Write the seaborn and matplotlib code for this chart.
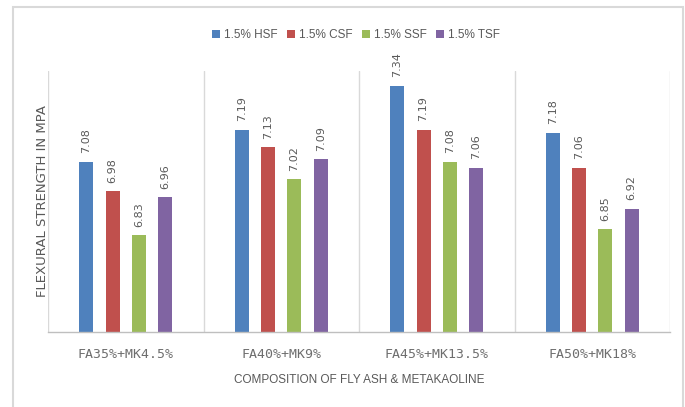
import matplotlib
matplotlib.use('Agg')
import matplotlib.pyplot as plt
from matplotlib import font_manager
from matplotlib.patches import Rectangle
import seaborn as sns
import pandas as pd

# Chart data
groups = ['FA35%+MK4.5%', 'FA40%+MK9%', 'FA45%+MK13.5%', 'FA50%+MK18%']
series = ['1.5% HSF', '1.5% CSF', '1.5% SSF', '1.5% TSF']
hsf = [7.08, 7.19, 7.34, 7.18]
csf = [6.98, 7.13, 7.19, 7.06]
ssf = [6.83, 7.02, 7.08, 6.85]
tsf = [6.96, 7.09, 7.06, 6.92]
colors = ['#4F81BD', '#C0504D', '#9BBB59', '#8064A2']

# long-format table for seaborn
rows = []
for name, vals in zip(series, [hsf, csf, ssf, tsf]):
    for g, v in zip(groups, vals):
        rows.append({'group': g, 'series': name, 'value': v})
df = pd.DataFrame(rows)

sns.set_theme(style='white')
installed = {f.name for f in font_manager.fontManager.ttflist}
narrow = 'Liberation Sans Narrow' if 'Liberation Sans Narrow' in installed else 'Liberation Sans'
plt.rcParams['font.family'] = ['DejaVu Sans']

TEXT = '#595959'
GRID = '#d9d9d9'

fig = plt.figure(figsize=(6.85, 4.07), dpi=100)
ax = fig.add_axes([48 / 685, 75.3 / 407, 622 / 685, 260.7 / 407])

sns.barplot(data=df, x='group', y='value', hue='series', order=groups,
            hue_order=series, palette=colors, saturation=1, width=0.677, gap=0.47,
            linewidth=0, errorbar=None, ax=ax)

ax.set_ylim(6.5, 7.39)
ax.set_xlim(-0.5, 3.5)

# category separators
for xpos in [-0.5, 0.5, 1.5, 2.5, 3.5]:
    ax.axvline(xpos, color=GRID, lw=1.0, zorder=0)

for s in ['top', 'right', 'left']:
    ax.spines[s].set_visible(False)
ax.spines['bottom'].set_color('#bfbfbf')
ax.spines['bottom'].set_linewidth(1.0)

ax.set_yticks([])
ax.tick_params(axis='x', length=0, pad=12)
ax.set_xticks(range(len(groups)))
ax.set_xticklabels(groups, family='DejaVu Sans Mono', fontsize=9.5, color='#6e6e6e')

for cont in ax.containers:
    ax.bar_label(cont, fmt='%.2f', rotation=90, padding=6, fontsize=8, color=TEXT)

ax.set_xlabel('COMPOSITION OF FLY ASH & METAKAOLINE', family=narrow,
              fontsize=8.5, color=TEXT, labelpad=9)
ax.set_ylabel('FLEXURAL STRENGTH IN MPA', fontsize=9.5, color=TEXT, labelpad=-1)

leg = ax.legend(loc='center', bbox_to_anchor=(356 / 685, 1 - 35 / 407),
                bbox_transform=fig.transFigure, ncol=4, frameon=False,
                prop={'family': narrow, 'size': 8.5}, handlelength=0.7,
                handleheight=0.7, handletextpad=0.3, columnspacing=0.8)
for t in leg.get_texts():
    t.set_color(TEXT)

# outer chart border
fig.patches.append(Rectangle((13 / 685, -0.05), 670 / 685, 1.05 - 7 / 407,
                             transform=fig.transFigure, fill=False,
                             edgecolor=GRID, lw=1.5))

fig.savefig('out.png', dpi=100)
